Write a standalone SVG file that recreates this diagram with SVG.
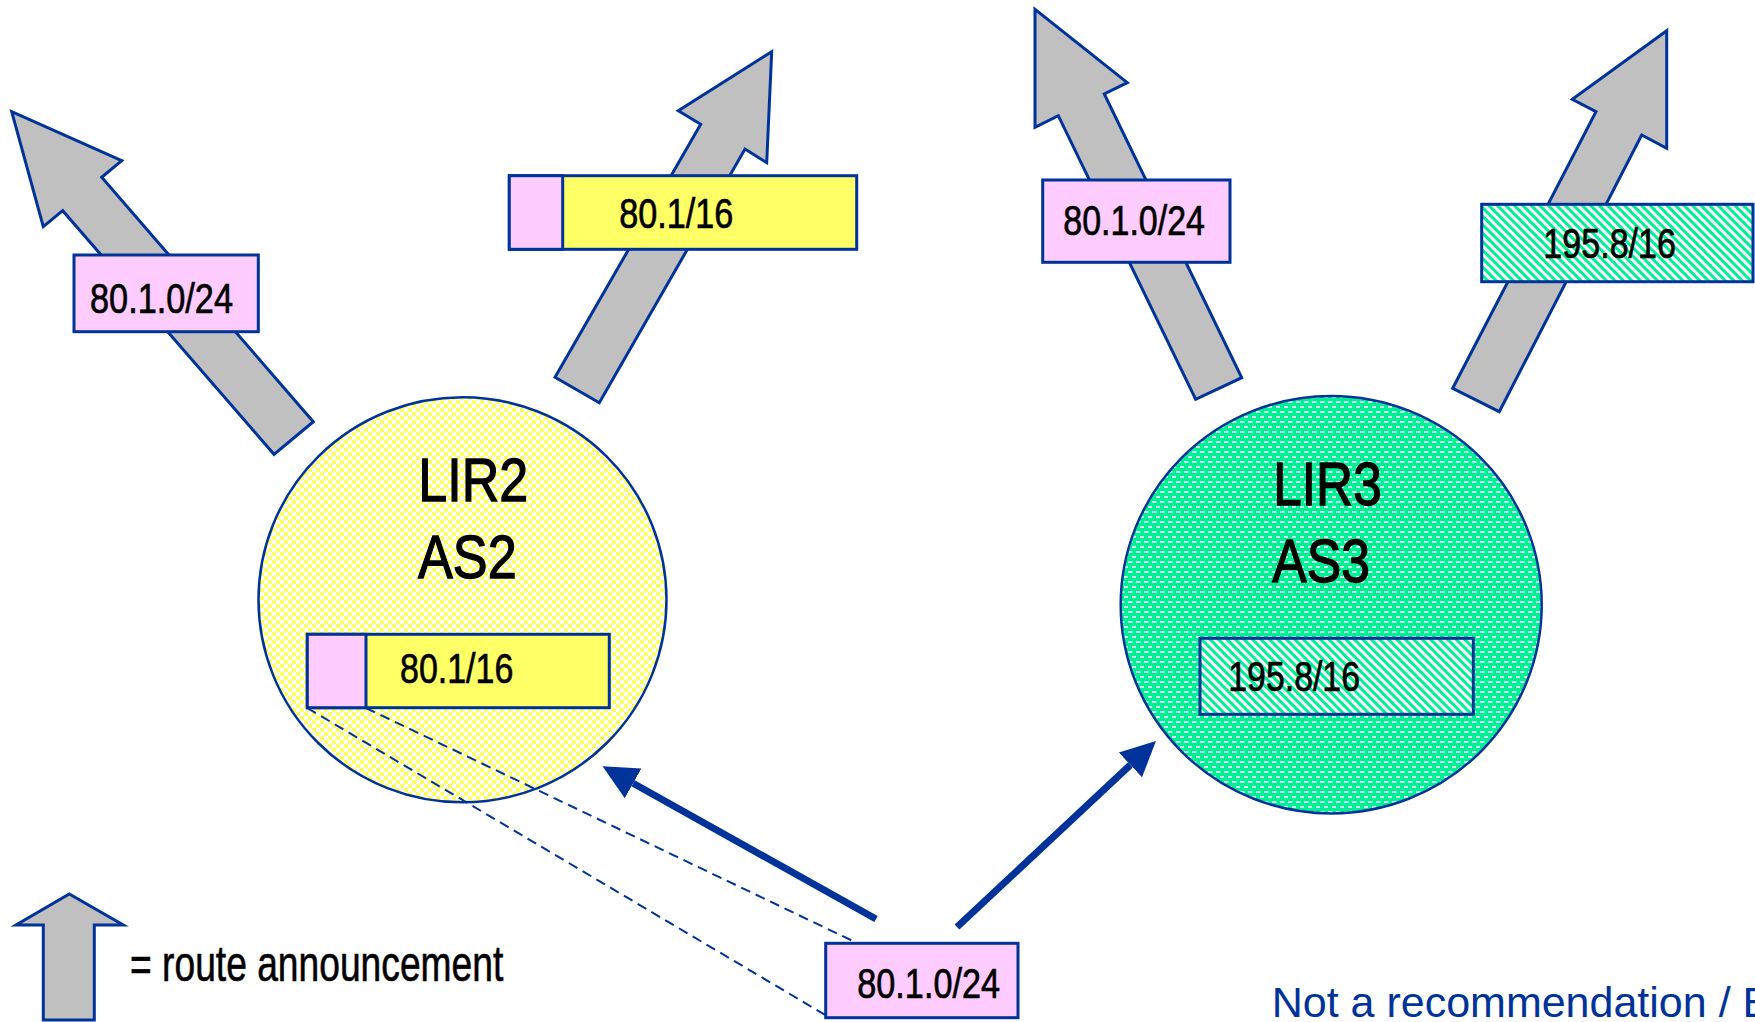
<svg xmlns="http://www.w3.org/2000/svg" width="1755" height="1022" viewBox="0 0 1755 1022">
  <defs>
    <!-- fine yellow/white checker used for the LIR2 disc -->
    <pattern id="checkYellow" width="8" height="8" patternUnits="userSpaceOnUse">
      <rect width="8" height="8" fill="#ffffff"/>
      <rect width="4" height="4" fill="#ffff66"/>
      <rect x="4" y="4" width="4" height="4" fill="#ffff66"/>
    </pattern>
    <!-- green field with staggered white dashes used for the LIR3 disc -->
    <pattern id="dashGreen" width="8" height="10" patternUnits="userSpaceOnUse">
      <rect width="8" height="10" fill="#00f096"/>
      <rect x="0" y="1" width="4.5" height="2" fill="#ffffff" opacity="0.8"/>
      <rect x="4" y="6" width="4.5" height="2" fill="#ffffff" opacity="0.8"/>
    </pattern>
    <!-- diagonal green/white hatching for the 195.8/16 prefix -->
    <pattern id="hatchGreen" width="6" height="6" patternUnits="userSpaceOnUse" patternTransform="rotate(-45)">
      <rect width="6" height="6" fill="#ffffff"/>
      <rect width="3" height="6" fill="#00f096"/>
    </pattern>
    <marker id="head" markerWidth="40" markerHeight="40" refX="0" refY="0" viewBox="0 -20 40 40" orient="auto" markerUnits="userSpaceOnUse">
      <path d="M0,-17 L35,0 L0,17 Z" fill="#003399"/>
    </marker>
  </defs>
  <style>
    .announce { fill: #c0c0c0; stroke: #003399; stroke-width: 3; stroke-linejoin: miter; }
    .box { stroke: #003399; stroke-width: 3; }
    .pink { fill: #ffccff; }
    .yellow { fill: #ffff66; }
    .hatch { fill: url(#hatchGreen); }
    .lbl { font-family: "Liberation Sans Narrow", "Liberation Sans", Arial, sans-serif; font-size: 42px; fill: #000000; stroke: #000000; stroke-width: 0.7; }
    .big { font-family: "Liberation Sans Narrow", "Liberation Sans", Arial, sans-serif; font-size: 61px; fill: #000000; stroke: #000000; stroke-width: 1.3; }
    .legend { font-family: "Liberation Sans Narrow", "Liberation Sans", Arial, sans-serif; font-size: 50px; fill: #000000; stroke: #000000; stroke-width: 0.6; }
    .note { font-family: "Liberation Sans", Arial, sans-serif; font-size: 43px; fill: #003399; }
    .flow { stroke: #003399; stroke-width: 7; fill: none; marker-end: url(#head); }
    .dash { stroke: #003399; stroke-width: 2; fill: none; stroke-dasharray: 10 6; }
  </style>

  <rect width="1755" height="1022" fill="#ffffff"/>

  <!-- route announcements leaving LIR2 / AS2 -->
  <g id="ann-lir2-specific">
    <polygon class="announce" points="313.3,421.7 101.7,177.3 121.7,160.7 11.7,111.7 43.3,226.7 62.7,210.7 274,454.3"/>
    <rect class="box pink" x="74" y="255" width="184.3" height="76.7"/>
    <text class="lbl" x="90" y="313" textLength="143" lengthAdjust="spacingAndGlyphs">80.1.0/24</text>
  </g>
  <g id="ann-lir2-aggregate">
    <polygon class="announce" points="555,377.3 700.7,124.3 678.3,110.7 771.7,51.7 766.7,162.7 745,149 599.3,402.7"/>
    <rect class="box yellow" x="509.3" y="175.7" width="347.4" height="73.6"/>
    <rect class="box pink" x="509.3" y="175.7" width="53.4" height="73.6"/>
    <text class="lbl" x="619.3" y="228.3" textLength="114" lengthAdjust="spacingAndGlyphs">80.1/16</text>
  </g>

  <!-- route announcements leaving LIR3 / AS3 -->
  <g id="ann-lir3-specific">
    <polygon class="announce" points="1241.7,377.7 1104.3,94 1127.3,82.7 1035,9.3 1035,127.3 1058.3,115.7 1195.7,399.3"/>
    <rect class="box pink" x="1042.7" y="180" width="187.3" height="82.3"/>
    <text class="lbl" x="1063.3" y="235" textLength="141.7" lengthAdjust="spacingAndGlyphs">80.1.0/24</text>
  </g>
  <g id="ann-lir3-own">
    <polygon class="announce" points="1452.7,388.3 1596,111.7 1572.3,99.3 1666.7,30.7 1666.7,148.3 1641.7,135 1499.3,411.7"/>
    <rect class="box hatch" x="1481.7" y="204.3" width="271.3" height="77.4"/>
    <text class="lbl" x="1543.3" y="258.3" textLength="132.7" lengthAdjust="spacingAndGlyphs">195.8/16</text>
  </g>

  <!-- LIR2 / AS2 -->
  <g id="lir2">
    <ellipse cx="462.5" cy="599.8" rx="204" ry="202.5" fill="url(#checkYellow)" stroke="#003399" stroke-width="2.5"/>
    <text class="big" x="418.3" y="501" textLength="110" lengthAdjust="spacingAndGlyphs">LIR2</text>
    <text class="big" x="418" y="577.7" textLength="98.7" lengthAdjust="spacingAndGlyphs">AS2</text>
    <rect class="box yellow" x="307.3" y="634.3" width="302" height="73.4"/>
    <rect class="box pink" x="307.3" y="634.3" width="58.7" height="73.4"/>
    <text class="lbl" x="400" y="682.7" textLength="113.3" lengthAdjust="spacingAndGlyphs">80.1/16</text>
  </g>

  <!-- LIR3 / AS3 -->
  <g id="lir3">
    <ellipse cx="1331.2" cy="604.7" rx="210.5" ry="208.7" fill="url(#dashGreen)" stroke="#003399" stroke-width="2.5"/>
    <text class="big" x="1273.3" y="505" textLength="108.4" lengthAdjust="spacingAndGlyphs">LIR3</text>
    <text class="big" x="1272.3" y="581.7" textLength="97.7" lengthAdjust="spacingAndGlyphs">AS3</text>
    <rect class="box hatch" x="1200" y="638.3" width="273.3" height="76"/>
    <text class="lbl" x="1228.3" y="690.7" textLength="131.7" lengthAdjust="spacingAndGlyphs">195.8/16</text>
  </g>

  <!-- connectors: the /24 is carved out of 80.1/16 and moves from LIR2 to LIR3 -->
  <g id="connectors">
    <line class="dash" x1="307.3" y1="708" x2="827" y2="1016"/>
    <line class="dash" x1="366" y1="708" x2="857" y2="943"/>
    <line class="flow" x1="876" y1="919" x2="633.1" y2="783.3"/>
    <line class="flow" x1="957" y1="927" x2="1130.4" y2="764.9"/>
  </g>

  <!-- customer prefix -->
  <g id="customer">
    <rect class="box pink" x="825.7" y="943.3" width="192.3" height="74.4"/>
    <text class="lbl" x="857.3" y="997.7" textLength="142.7" lengthAdjust="spacingAndGlyphs">80.1.0/24</text>
  </g>

  <!-- legend -->
  <g id="legend">
    <polygon class="announce" points="69.3,894 123.3,925 94.3,925 94.3,1020 43.3,1020 43.3,925 16,925"/>
    <text class="legend" x="130" y="981" textLength="373.3" lengthAdjust="spacingAndGlyphs">= route announcement</text>
  </g>

  <g id="note">
    <text class="note" x="1271.7" y="1016.7">Not a recommendation / E</text>
  </g>
</svg>
